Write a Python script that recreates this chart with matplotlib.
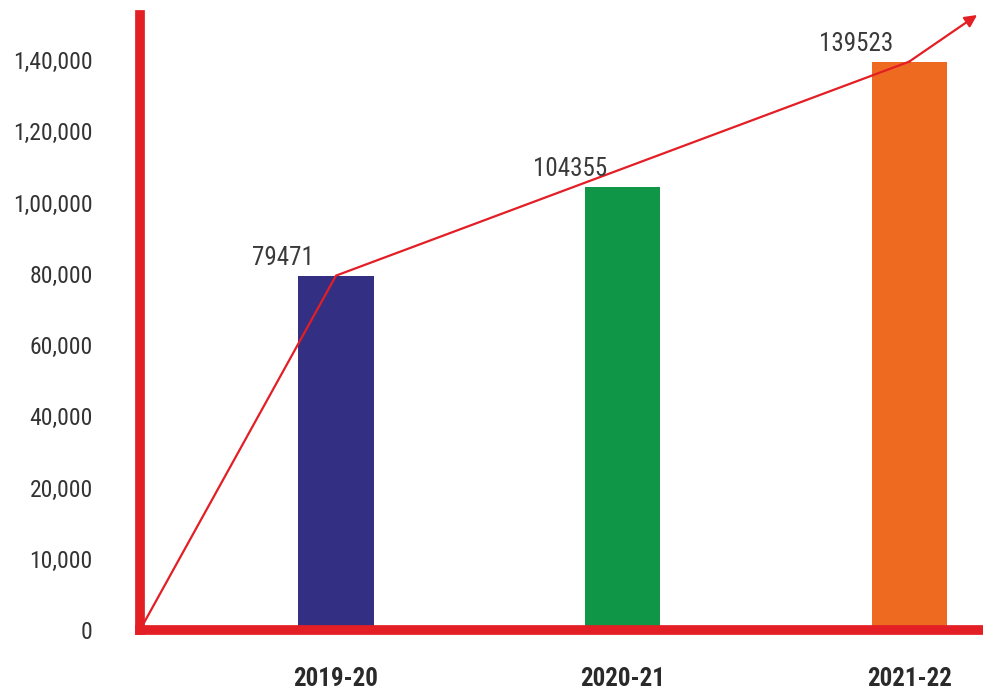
import numpy as np
import matplotlib
matplotlib.use("Agg")
import matplotlib.pyplot as plt
from matplotlib.ticker import FixedLocator, FuncFormatter

plt.rcParams["font.family"] = ["Roboto Condensed", "Archivo Narrow", "DejaVu Sans"]

years = ["2019-20", "2020-21", "2021-22"]
values = [79471, 104355, 139523]
bar_colors = ["#332f83", "#0f9747", "#ee6a21"]

# y axis ticks are evenly spaced even though the steps are not equal
tick_values = [0, 10000, 20000, 40000, 60000, 80000, 100000, 120000, 140000]
knots = np.array(tick_values + [160000], dtype=float)
knot_pos = np.arange(len(knots), dtype=float)


def forward(v):
    return np.interp(v, knots, knot_pos)


def inverse(p):
    return np.interp(p, knot_pos, knots)


def indian_format(v, pos=None):
    v = int(round(v))
    s = str(v)
    if len(s) <= 3:
        return s
    head, tail = s[:-3], s[-3:]
    groups = []
    while len(head) > 2:
        groups.insert(0, head[-2:])
        head = head[:-2]
    if head:
        groups.insert(0, head)
    return ",".join(groups + [tail])


red = "#e31e25"
x = np.arange(len(years))

fig = plt.figure(figsize=(9.83, 6.95), dpi=100)
ax = fig.add_axes([140 / 983, 65 / 695, 843 / 983, 615 / 695])
ax.set_yscale("function", functions=(forward, inverse))

ax.bar(x, values, width=0.262, color=bar_colors, zorder=2)

# trend line from the origin through the first and last bars, ending in an arrow
x0 = -0.684
ax.plot([x0, x[0], x[-1]], [0, values[0], values[-1]], color=red, lw=1.6, zorder=3)
ax.annotate("", xy=(0.993, 1.0), xycoords="axes fraction",
            xytext=(x[-1], values[-1]), textcoords="data",
            arrowprops=dict(arrowstyle="-|>", color=red, lw=1.6,
                            mutation_scale=18, shrinkA=0, shrinkB=0),
            zorder=3)

for xi, v in zip(x, values):
    ax.annotate(str(v), xy=(xi, v), xytext=(-38, 13), textcoords="offset points",
                ha="center", va="center", fontsize=18, color="#3a3a3a")

ax.set_xlim(x0, 2.258)
ax.set_ylim(0, inverse(615 / 71.25))

ax.yaxis.set_major_locator(FixedLocator(tick_values))
ax.yaxis.set_major_formatter(FuncFormatter(indian_format))
ax.set_xticks(x)
ax.set_xticklabels(years, fontsize=18, fontweight="bold", color="#2a2a2a")
ax.tick_params(axis="y", length=0, pad=34, labelsize=17, labelcolor="#333333")
ax.tick_params(axis="x", length=0, pad=27)

for side in ["top", "right"]:
    ax.spines[side].set_visible(False)
for side in ["left", "bottom"]:
    ax.spines[side].set_color(red)
    ax.spines[side].set_linewidth(7)
    ax.spines[side].set_zorder(4)

plt.savefig("out.png", dpi=100)
plt.close()
